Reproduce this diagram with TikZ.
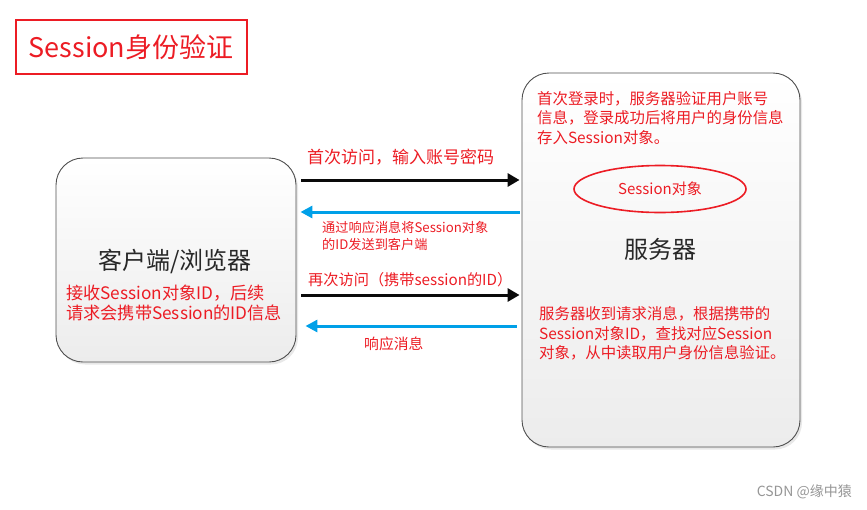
\documentclass[tikz,border=0pt]{standalone}
\usepackage{fontspec}
\setmainfont{Noto Sans CJK SC}
\usepackage{tikz}
\usetikzlibrary{
  shapes.geometric,
  arrows.meta,
  positioning,
  shadows
}
\definecolor{notecolor}{RGB}{236, 28, 36}
\definecolor{replycolor}{RGB}{0, 160, 232}
\definecolor{requestcolor}{RGB}{10, 10, 10}
\definecolor{bordercolor}{RGB}{80, 80, 80}
\definecolor{hostcolor}{RGB}{236, 236, 236}
\definecolor{labelcolor}{RGB}{40, 40, 40}
\definecolor{markcolor}{RGB}{150, 150, 150}
\tikzset{
titlebox/.style={
  draw=notecolor,
  line width=2pt,
  minimum width=231pt,
  minimum height=54pt,
  inner sep=0pt,
  text=notecolor,
  font=\fontsize{27}{30}\selectfont
},
hostbox/.style={
  draw=bordercolor,
  line width=0.9pt,
  rounded corners=27pt,
  top color=white,
  bottom color=hostcolor,
  drop shadow={opacity=0.18, shadow xshift=2pt, shadow yshift=-2.5pt}
},
hostlabel/.style={
  text=labelcolor,
  font=\fontsize{24}{27}\selectfont
},
note/.style={
  anchor=north west,
  inner sep=0pt,
  align=left,
  text=notecolor
},
sessionellipse/.style={
  ellipse,
  draw=notecolor,
  line width=1.6pt,
  minimum width=172pt,
  minimum height=47pt,
  inner sep=0pt,
  text=notecolor,
  font=\fontsize{15}{18}\selectfont
},
requestarrow/.style={
  -{Triangle[length=12pt,width=13pt]},
  line width=3pt,
  draw=requestcolor
},
replyarrow/.style={
  requestarrow,
  draw=replycolor,
  -{Triangle[length=12pt,width=12pt]}
},
arrowlabel/.style={
  anchor=west,
  inner sep=0pt,
  text=notecolor
}
}

\begin{document}
\begin{tikzpicture}[x=1pt, y=1pt]
  \useasboundingbox (0,0) rectangle (867,-509);

  % Title
  \node[titlebox] (title) at (131,-47) {Session身份验证};

  % Client
  \node[hostbox, minimum width=240pt, minimum height=204pt] (client) at (176,-260) {};
  \node[hostlabel] (clientname) at (175,-261) {客户端/浏览器};
  \node[note, font=\fontsize{17.2}{20}\selectfont] (clientnote) at (66,-285) {
    接收Session对象ID，后续\\请求会携带Session的ID信息
  };

  % Server
  \node[hostbox, minimum width=278pt, minimum height=374pt] (server) at (661,-260) {};
  \node[note, font=\fontsize{15.4}{19.5}\selectfont] (servernote) at (537,-91) {
    首次登录时，服务器验证用户账号\\信息，登录成功后将用户的身份信息\\存入Session对象。
  };
  \node[sessionellipse] (sessobj) at (660,-189) {Session对象};
  \node[hostlabel] (servername) at (660,-249) {服务器};
  \node[note, font=\fontsize{15.4}{19.8}\selectfont] (checknote) at (539,-306) {
    服务器收到请求消息，根据携带的\\Session对象ID，查找对应Session\\对象，从中读取用户身份信息验证。
  };

  % Arrows
  \draw[requestarrow] ([xshift=5pt,yshift=80pt]client.east) -- ([xshift=-2pt,yshift=80pt]server.west);
  \draw[replyarrow] ([xshift=-2pt,yshift=48pt]server.west) -- ([xshift=4pt,yshift=48pt]client.east);
  \draw[requestarrow] ([xshift=5pt,yshift=-35pt]client.east) -- ([xshift=-2pt,yshift=-35pt]server.west);
  \draw[replyarrow] ([xshift=-5pt,yshift=-66pt]server.west) -- ([xshift=9pt,yshift=-66pt]client.east);

  % Arrow labels
  \node[arrowlabel, font=\fontsize{17}{20}\selectfont] (firstvisit) at (307,-157) {首次访问，输入账号密码};
  \node[note, font=\fontsize{13.2}{17}\selectfont] (sendid) at (322,-221) {
    通过响应消息将Session对象\\的ID发送到客户端
  };
  \node[arrowlabel, font=\fontsize{15.2}{18}\selectfont] (nextvisit) at (308,-280) {再次访问（携带session的ID）};
  \node[arrowlabel, font=\fontsize{14.8}{18}\selectfont] (reply) at (364,-344) {响应消息};

  % Watermark
  \node[anchor=east, inner sep=0pt, text=markcolor, font=\fontsize{14}{16}\selectfont] (mark) at (852,-492) {CSDN @缘中猿};
\end{tikzpicture}
\end{document}
